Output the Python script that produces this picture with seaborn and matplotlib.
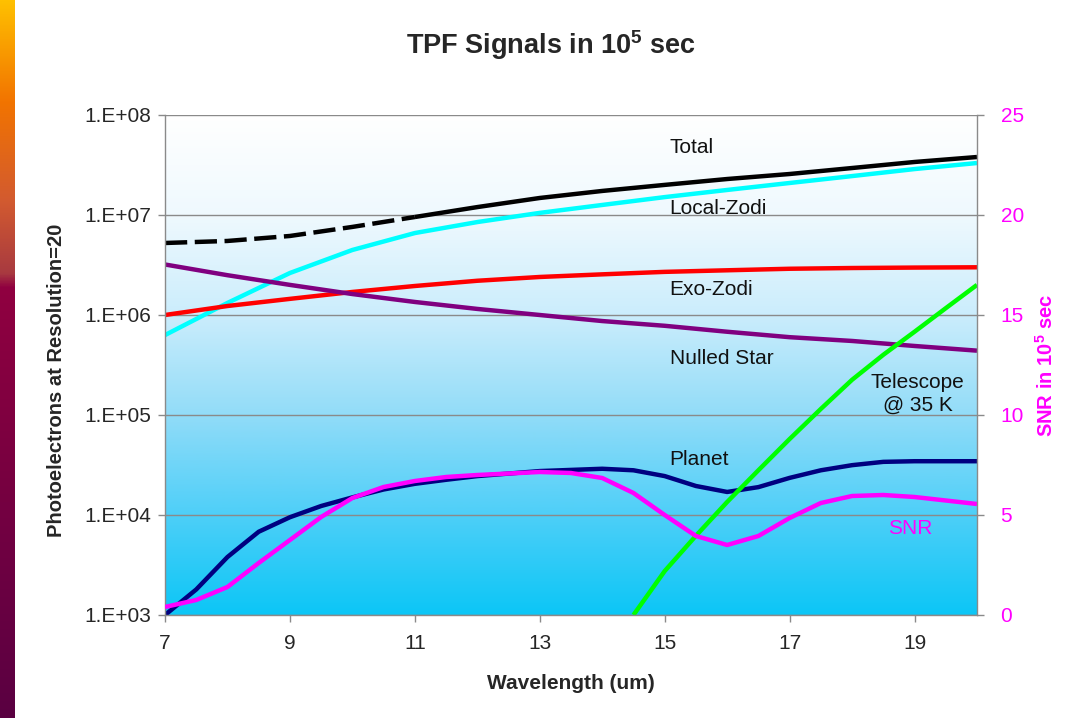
import numpy as np
import pandas as pd
import matplotlib
matplotlib.use("Agg")
import matplotlib.pyplot as plt
from matplotlib.colors import LinearSegmentedColormap
from matplotlib.ticker import FixedLocator, NullLocator
import seaborn as sns

sns.set_style("white")
plt.rcParams['font.family'] = ['Liberation Sans', 'DejaVu Sans']
plt.rcParams['mathtext.fontset'] = 'custom'
plt.rcParams['mathtext.rm'] = 'Liberation Sans'
plt.rcParams['mathtext.bf'] = 'Liberation Sans:bold'
plt.rcParams['lines.solid_joinstyle'] = 'round'
plt.rcParams['lines.solid_capstyle'] = 'butt'

# ---------------- data ----------------
wavelength = [7, 8, 9, 10, 11, 12, 13, 14, 15, 16, 17, 18, 19, 20]
total = [5.25e6, 5.5e6, 6.17e6, 7.6e6, 9.55e6, 1.2e7, 1.48e7, 1.74e7, 2.0e7,
         2.29e7, 2.57e7, 2.95e7, 3.39e7, 3.8e7]
local_zodi = [6.3e5, 1.32e6, 2.63e6, 4.47e6, 6.6e6, 8.5e6, 1.05e7, 1.26e7,
              1.51e7, 1.78e7, 2.09e7, 2.45e7, 2.88e7, 3.31e7]
exo_zodi = [1.0e6, 1.23e6, 1.45e6, 1.7e6, 1.95e6, 2.2e6, 2.4e6, 2.55e6, 2.7e6,
            2.8e6, 2.9e6, 2.95e6, 2.98e6, 3.0e6]
nulled_star = [3.2e6, 2.5e6, 2.0e6, 1.62e6, 1.35e6, 1.15e6, 1.0e6, 8.7e5, 7.8e5,
               6.8e5, 6.0e5, 5.5e5, 4.9e5, 4.4e5]

telescope_wl = [14.5, 15, 15.5, 16, 16.5, 17, 17.5, 18, 18.5, 19, 19.5, 20]
telescope = [1.0e3, 2.75e3, 6.2e3, 1.35e4, 2.8e4, 5.75e4, 1.15e5, 2.25e5,
             4.0e5, 6.8e5, 1.17e6, 2.0e6]

planet_wl = [7, 7.5, 8, 8.5, 9, 9.5, 10, 10.5, 11, 11.5, 12, 13, 14, 14.5, 15,
             15.5, 16, 16.5, 17, 17.5, 18, 18.5, 19, 20]
planet = [1.0e3, 1.8e3, 3.8e3, 6.8e3, 9.5e3, 1.23e4, 1.5e4, 1.8e4, 2.05e4,
          2.25e4, 2.45e4, 2.75e4, 2.9e4, 2.8e4, 2.45e4, 1.95e4, 1.7e4, 1.9e4,
          2.35e4, 2.8e4, 3.15e4, 3.4e4, 3.45e4, 3.45e4]

snr_wl = [7, 7.5, 8, 8.5, 9, 9.5, 10, 10.5, 11, 11.5, 12, 13, 13.5, 14, 14.5,
          15, 15.5, 16, 16.5, 17, 17.5, 18, 18.5, 19, 20]
snr = [0.4, 0.75, 1.4, 2.6, 3.75, 4.9, 5.85, 6.4, 6.7, 6.9, 7.0, 7.15, 7.1,
       6.85, 6.1, 5.0, 3.95, 3.5, 3.95, 4.85, 5.6, 5.95, 6.0, 5.9, 5.55]

left_ticks = [1e3, 1e4, 1e5, 1e6, 1e7, 1e8]
left_ticklabels = ["1.E+03", "1.E+04", "1.E+05", "1.E+06", "1.E+07", "1.E+08"]
x_ticks = [7, 9, 11, 13, 15, 17, 19]
right_ticks = [0, 5, 10, 15, 20, 25]

# ---------------- figure ----------------
fig = plt.figure(figsize=(10.78, 7.18), dpi=100)
fig.patch.set_facecolor("white")

# decorative strip on the left edge
strip = fig.add_axes([0, 0, 15 / 1078, 1])
strip_cmap = LinearSegmentedColormap.from_list(
    "strip", [(0.0, "#FFC000"), (0.14, "#F27400"), (0.28, "#D25A30"),
              (0.38, "#A83A40"), (0.40, "#900040"), (1.0, "#5A0042")])
strip.imshow(np.linspace(0, 1, 256).reshape(-1, 1), cmap=strip_cmap,
             aspect="auto", extent=[0, 1, 0, 1], origin="upper")
strip.set_axis_off()

pos = [165 / 1078, 1 - 615 / 718, (977 - 165) / 1078, 500 / 718]

# gradient plot background
bg = fig.add_axes(pos, zorder=0)
bg_cmap = LinearSegmentedColormap.from_list(
    "bg", [(0.0, "#FFFFFF"), (0.2, "#EFF9FE"), (0.4, "#CBEDFC"),
           (0.6, "#92DCF8"), (0.8, "#4ECFF8"), (1.0, "#0CC6F6")])
bg.imshow(np.linspace(0, 1, 256).reshape(-1, 1), cmap=bg_cmap,
          aspect="auto", extent=[0, 1, 0, 1], origin="upper")
bg.set_axis_off()

ax = fig.add_axes(pos, zorder=1)
ax.set_facecolor("none")

lw = 3.2
df_tot = pd.DataFrame({"wl": wavelength, "v": total})
sns.lineplot(data=df_tot[df_tot.wl <= 11], x="wl", y="v", ax=ax, color="black",
             linewidth=lw, linestyle=(0, (5, 1.7)))
sns.lineplot(data=df_tot[df_tot.wl >= 11], x="wl", y="v", ax=ax, color="black",
             linewidth=lw)
sns.lineplot(x=wavelength, y=local_zodi, ax=ax, color="#00FFFF", linewidth=lw)
sns.lineplot(x=wavelength, y=exo_zodi, ax=ax, color="#FF0000", linewidth=lw)
sns.lineplot(x=wavelength, y=nulled_star, ax=ax, color="#800080", linewidth=lw)
sns.lineplot(x=planet_wl, y=planet, ax=ax, color="#000080", linewidth=lw)
sns.lineplot(x=telescope_wl, y=telescope, ax=ax, color="#00FF00", linewidth=lw)

ax.set_yscale("log")
ax.set_xlim(7, 20)
ax.set_ylim(1e3, 1e8)
ax.yaxis.set_major_locator(FixedLocator(left_ticks))
ax.yaxis.set_minor_locator(NullLocator())
ax.set_yticklabels(left_ticklabels)
ax.set_xticks(x_ticks)
ax.set_xticklabels([str(t) for t in x_ticks])
ax.yaxis.grid(True, color="#8A8A8A", linewidth=1.0)
ax.xaxis.grid(False)
for s in ["top", "right"]:
    ax.spines[s].set_visible(False)
for s in ["left", "bottom"]:
    ax.spines[s].set_color("#8A8A8A")
    ax.spines[s].set_linewidth(1.0)
ax.tick_params(axis="y", which="major", direction="out", length=5, width=1,
               color="#8A8A8A", labelsize=15, pad=5, left=True)
ax.tick_params(axis="x", which="major", direction="out", length=5, width=1,
               color="#8A8A8A", labelsize=15, pad=9, bottom=True)

ax.set_xlabel("Wavelength (um)", fontsize=15, fontweight="bold")
ax.xaxis.set_label_coords(0.5, -0.118)
ax.set_ylabel("Photoelectrons at Resolution=20", fontsize=14.5, fontweight="bold")
ax.yaxis.set_label_coords(-0.122, 0.47)

# right axis (SNR)
ax2 = ax.twinx()
ax2.set_facecolor("none")
sns.lineplot(x=snr_wl, y=snr, ax=ax2, color="#FF00FF", linewidth=lw)
ax2.set_ylim(0, 25)
ax2.set_yticks(right_ticks)
ax2.set_yticklabels([str(t) for t in right_ticks])
ax2.tick_params(axis="y", direction="out", length=5, width=1, color="#8A8A8A",
                labelcolor="#FF00FF", labelsize=15, pad=12, right=True)
for s in ["top", "left", "bottom"]:
    ax2.spines[s].set_visible(False)
ax2.spines["right"].set_color("#8A8A8A")
ax2.spines["right"].set_linewidth(1.0)
ax2.set_ylabel(r"SNR in $\mathbf{10^{5}}$ sec", fontsize=14.5,
               fontweight="bold", color="#FF00FF", labelpad=8)

# series labels
lab_kw = dict(fontsize=15, color="#111111", va="center", ha="left")
ax.text(15.08, 4.7e7, "Total", **lab_kw)
ax.text(15.08, 1.17e7, "Local-Zodi", **lab_kw)
ax.text(15.08, 1.78e6, "Exo-Zodi", **lab_kw)
ax.text(15.08, 3.7e5, "Nulled Star", **lab_kw)
ax.text(15.08, 3.6e4, "Planet", **lab_kw)
ax.text(19.05, 1.62e5, "Telescope\n@ 35 K", fontsize=15, color="#111111",
        va="center", ha="center", multialignment="center", linespacing=1.25)
ax2.text(18.57, 4.35, "SNR", fontsize=15, color="#FF00FF", va="center", ha="left")

fig.text(0.511, 0.937, r"TPF Signals in $\mathbf{10^{5}}$ sec", fontsize=19.5,
         fontweight="bold", ha="center", va="center")

fig.savefig("out.png", dpi=100)
